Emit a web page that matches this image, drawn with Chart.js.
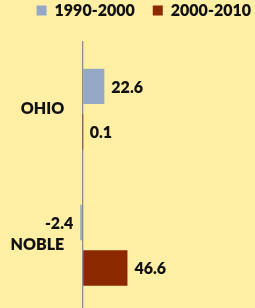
<!DOCTYPE html>
<html>
<head>
<meta charset="utf-8">
<script src="https://cdn.jsdelivr.net/npm/chart.js@4/dist/chart.umd.min.js"></script>
<style>
  html, body { margin: 0; padding: 0; overflow: hidden; background: #FFEFA5; }
  #wrap { width: 255px; height: 308px; overflow: hidden; }
  canvas { display: block; }
</style>
</head>
<body>
<div id="wrap"><canvas id="c" width="255" height="326"></canvas></div>
<script>
const categories = ['OHIO', 'NOBLE'];
const seriesNames = ['1990-2000', '2000-2010'];
const values1990_2000 = [22.6, -2.4];
const values2000_2010 = [0.1, 46.6];
const seriesColors = ['#95A9C7', '#8B2A00'];

const FONT = 'Lato';
const WEIGHT = '800';

const valueLabels = {
  id: 'valueLabels',
  afterDatasetsDraw(chart) {
    const ctx = chart.ctx;
    ctx.save();
    ctx.font = WEIGHT + ' 16px ' + FONT;
    ctx.fillStyle = '#111111';
    ctx.textBaseline = 'middle';
    chart.data.datasets.forEach((ds, di) => {
      const meta = chart.getDatasetMeta(di);
      meta.data.forEach((el, i) => {
        const v = ds.data[i];
        const pos = v >= 0;
        ctx.textAlign = pos ? 'left' : 'right';
        ctx.fillText(v.toFixed(1), el.x + (pos ? 7 : -7), el.y + 1);
      });
    });
    ctx.restore();
  }
};

function build() {
  Chart.defaults.font.family = FONT;
  Chart.defaults.font.weight = WEIGHT;
  Chart.defaults.font.size = 16;
  Chart.defaults.color = '#111111';

  new Chart(document.getElementById('c'), {
    type: 'bar',
    data: {
      labels: categories,
      datasets: [
        { label: seriesNames[0], data: values1990_2000, backgroundColor: seriesColors[0], borderWidth: 0 },
        { label: seriesNames[1], data: values2000_2010, backgroundColor: seriesColors[1], borderWidth: 0 }
      ]
    },
    options: {
      indexAxis: 'y',
      responsive: false,
      animation: false,
      devicePixelRatio: 1,
      layout: { padding: { top: -15.5, right: -14, left: 7.5, bottom: 0 } },
      datasets: { bar: { categoryPercentage: 0.667, barPercentage: 0.78 } },
      scales: {
        x: {
          position: 'top',
          min: -15.9,
          max: 179,
          afterBuildTicks(scale) { scale.ticks = [{ value: 0 }]; },
          ticks: { display: false },
          border: { display: false },
          grid: {
            drawTicks: true,
            tickLength: 12.5,
            tickColor: 'transparent',
            lineWidth: 1.3,
            color: (c) => (c.tick && c.tick.value === 0 ? '#8c8c8c' : 'transparent')
          }
        },
        y: {
          grid: { display: false, drawTicks: false },
          border: { display: false },
          ticks: { padding: 3, font: { size: 16, weight: WEIGHT, family: FONT }, color: '#111111' }
        }
      },
      plugins: {
        tooltip: { enabled: false },
        legend: {
          position: 'top',
          align: 'end',
          labels: {
            boxWidth: 10,
            boxHeight: 10,
            padding: 18,
            color: '#111111',
            font: { size: 16, weight: WEIGHT, family: FONT }
          }
        }
      }
    },
    plugins: [valueLabels]
  });
}

if (document.fonts && document.fonts.load) {
  document.fonts.load(WEIGHT + ' 16px ' + FONT).then(build, build);
} else {
  build();
}
</script>
</body>
</html>
